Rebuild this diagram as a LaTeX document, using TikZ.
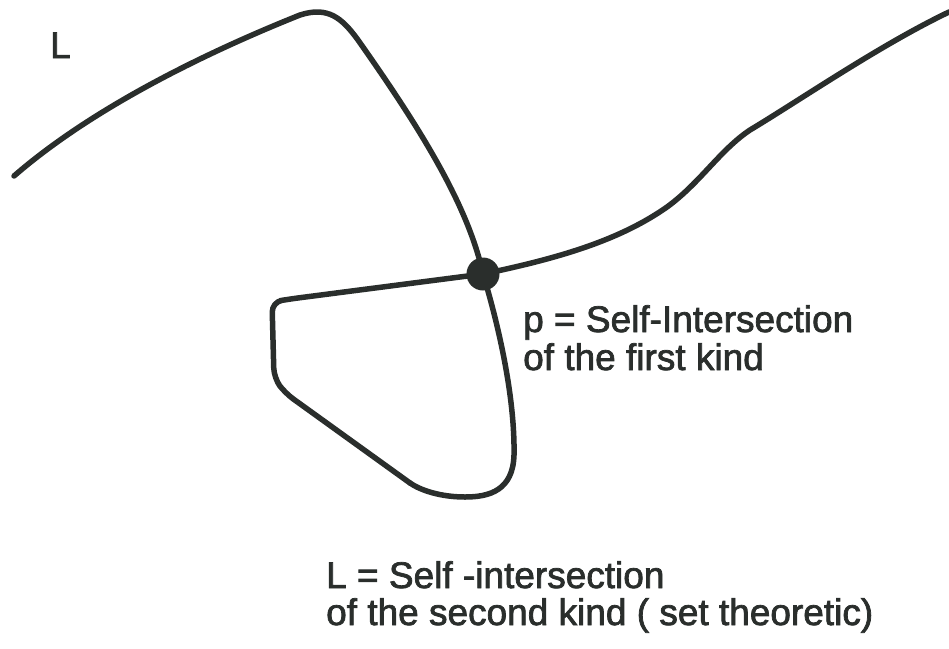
\documentclass[tikz,border=0pt]{standalone}
\usepackage{fontspec}
\setmainfont{Liberation Sans}
\newfontfamily\lblfont{Liberation Sans}[FakeBold=2]
\definecolor{ink}{HTML}{2A2E2C}
\begin{document}
\begin{tikzpicture}[x=1pt,y=-1pt,
  curve/.style={draw=ink,line width=5.5pt,line cap=round,line join=round},
  lbl/.style={anchor=base west,inner sep=0pt,text=ink,font=\lblfont\fontsize{37}{40}\selectfont},
  dot/.style={circle,fill=ink,inner sep=0pt,minimum size=33pt}]
\useasboundingbox (0,0) rectangle (949,648);
\node[dot] (p) at (483,274) {};
% upper-left branch down into p
\draw[curve] (14,176) .. controls (90,110) and (200,55) .. (300,15)
  .. controls (328,6) and (342,18) .. (358,40)
  .. controls (420,128) and (468,205) .. (p.center);
% loop
\draw[curve] (p.center) .. controls (500,330) and (515,400) .. (514,455)
  .. controls (513,490) and (490,497) .. (465,497)
  .. controls (440,497) and (420,490) .. (410,483);
\draw[curve,rounded corners=10pt] (410,483) -- (285,393) -- (274,378) -- (272,302) -- (290,299) -- (p.center);
% right branch
\draw[curve] (p.center) .. controls (560,258) and (620,240) .. (667,207)
  .. controls (700,183) and (720,150) .. (750,130)
  .. controls (800,100) and (880,45) .. (949,12);
% labels
\node[lbl] (Ltop) at (50,58) {L};
\node[lbl] (p1) at (523,332) {p = Self-Intersection};
\node[lbl] (p2) at (523,370) {of the first kind};
\node[lbl] (s1) at (326,588) {L = Self -intersection};
\node[lbl] (s2) at (326,625) {of the second kind ( set theoretic)};
\end{tikzpicture}
\end{document}
